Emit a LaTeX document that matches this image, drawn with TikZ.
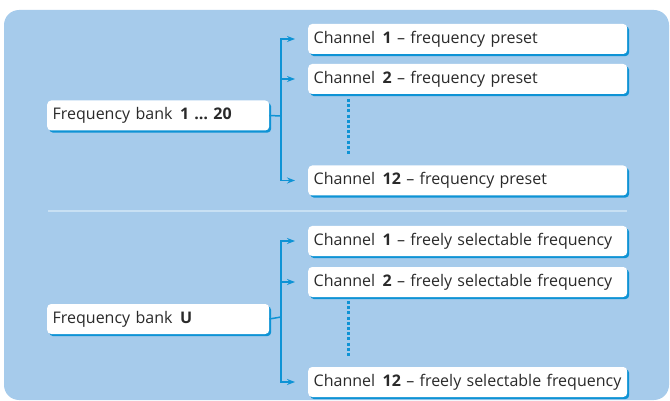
\documentclass[tikz,border=0pt]{standalone}
\usepackage{fontspec}
\setmainfont{Open Sans}
\usetikzlibrary{shadows,arrows.meta}
\definecolor{bgblue}{HTML}{A6CBEB}
\definecolor{lineblue}{HTML}{0E93D5}
\definecolor{sepline}{HTML}{C8E0F3}
\definecolor{txt}{HTML}{2A2A2A}
\newcommand{\gap}{\hspace{7.5pt}}
\tikzset{
  box/.style={fill=white, rounded corners=4pt, anchor=west, inner xsep=5.5pt, inner ysep=0pt,
    minimum height=30pt, text=txt, font=\fontsize{16}{19}\selectfont, align=left, text width=#1,
    drop shadow={shadow xshift=2pt, shadow yshift=-2.2pt, fill=lineblue, opacity=1}},
  conn/.style={draw=lineblue, line width=1.5pt},
  arr/.style={conn, -{Stealth[length=8pt,width=6pt]}, shorten >=13pt},
  dots/.style={draw=lineblue, line width=3pt, dash pattern=on 3pt off 2.2pt},
}
\begin{document}
\begin{tikzpicture}[x=1pt,y=-1pt]
\useasboundingbox (0,0) rectangle (670,401);
\fill[bgblue, rounded corners=15pt] (4,10) rectangle (669,400);
\draw[sepline, line width=1.2pt] (48,211) -- (627,211);
% top group
\node[box=211pt] (b1) at (47,115.5) {\mbox{Frequency bank\gap\textbf{1 … 20}}};
\node[box=308pt] (c11) at (308,39) {\mbox{Channel\gap\textbf{1} – frequency preset}};
\node[box=308pt] (c12) at (308,79) {\mbox{Channel\gap\textbf{2} – frequency preset}};
\node[box=308pt] (c13) at (308,180.5) {\mbox{Channel\gap\textbf{12} – frequency preset}};
\coordinate (j1) at (281,116);
\draw[conn] (b1.east) -- (j1);
\draw[arr] (j1) |- (c11.west);
\draw[arr] (j1) |- (c12.west);
\draw[arr] (j1) |- (c13.west);
\coordinate (d1a) at (348,99);
\coordinate (d1b) at (348,156);
\draw[dots] (d1a) -- (d1b);
% bottom group
\node[box=211pt] (b2) at (47,319) {\mbox{Frequency bank\gap\textbf{U}}};
\node[box=308pt] (c21) at (308,241) {\mbox{Channel\gap\textbf{1} – freely selectable frequency}};
\node[box=308pt] (c22) at (308,282) {\mbox{Channel\gap\textbf{2} – freely selectable frequency}};
\node[box=308pt] (c23) at (308,382) {\mbox{Channel\gap\textbf{12} – freely selectable frequency}};
\coordinate (j2) at (281,317);
\draw[conn] (b2.east) -- (j2);
\draw[arr] (j2) |- (c21.west);
\draw[arr] (j2) |- (c22.west);
\draw[arr] (j2) |- (c23.west);
\coordinate (d2a) at (348,301);
\coordinate (d2b) at (348,358);
\draw[dots] (d2a) -- (d2b);
\end{tikzpicture}
\end{document}
